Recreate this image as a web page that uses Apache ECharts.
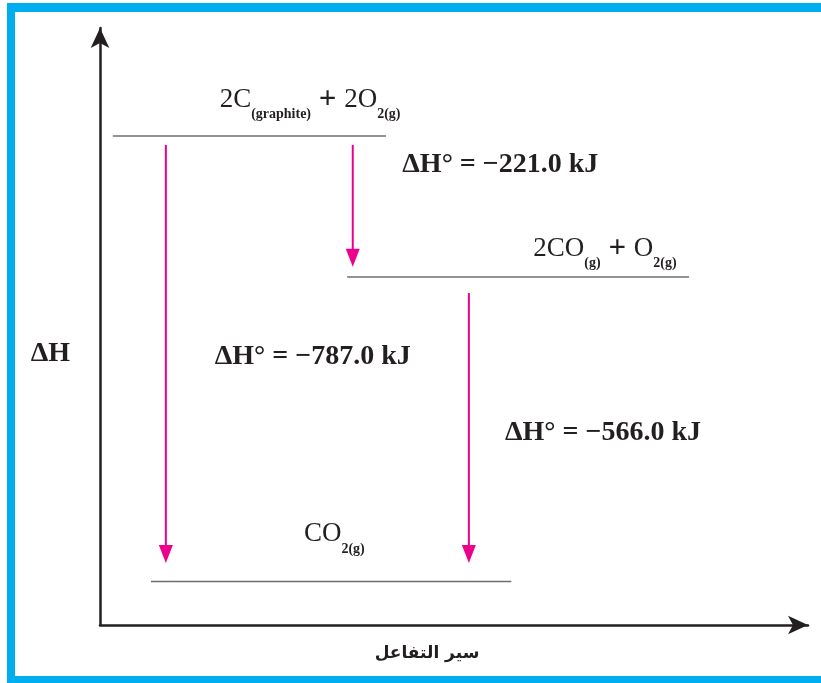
<!DOCTYPE html>
<html>
<head>
<meta charset="utf-8">
<script src="https://cdn.jsdelivr.net/npm/echarts@6/dist/echarts.min.js"></script>
<style>html,body{margin:0;padding:0;background:#fff}#main{width:821px;height:683px}</style>
</head>
<body>
<div id="main"></div>
<script>
// diagram units: both axes run 0..100, the levels are not drawn to kJ scale
var levelNames = ['2C(graphite) + 2O2(g)', '2CO(g) + O2(g)', 'CO2(g)'];
var levelY = [81.9, 58.3, 7.3];
var levelX0 = [1.8, 34.9, 7.2];
var levelX1 = [40.4, 83.2, 58.1];
var levelText = [
    '{m|2C}{s|(graphite)}{p| + }{m|2O}{s|2(g)}',
    '{m|2CO}{s|(g)}{p| + }{m|O}{s|2(g)}',
    '{m|CO}{s|2(g)}'
];
var levelTextX = [16.9, 61.2, 28.8];
var levelTextY = [88.0, 63.0, 15.2];

// enthalpy changes (kJ) and their arrows
var enthalpyValues = [-221.0, -787.0, -566.0];
var arrowX = [35.7, 9.3, 52.1];
var arrowFrom = [80.4, 80.4, 55.6];
var arrowTo = [60.0, 10.4, 10.4];
var dhTextX = [42.7, 16.2, 57.2];
var dhTextY = [77.1, 44.9, 32.2];

var ink = '#231f20';
var magenta = '#ec008c';
var serif = '"Liberation Serif", "Times New Roman", serif';

var richStyles = {
    m: {fontFamily: serif, fontSize: 27, fill: ink, lineHeight: 44, verticalAlign: 'middle'},
    p: {fontFamily: serif, fontSize: 31, fontWeight: 'bold', fill: ink, lineHeight: 44, verticalAlign: 'middle'},
    s: {fontFamily: serif, fontSize: 14, fontWeight: 'bold', fill: ink, lineHeight: 14, verticalAlign: 'bottom'}
};

function dhLabel(v) {
    return 'ΔH° = −' + Math.abs(v).toFixed(1) + ' kJ';
}

var levelData = levelNames.map(function (n, i) {
    return [levelX0[i], levelX1[i], levelY[i]];
});
var arrowData = enthalpyValues.map(function (v, i) {
    return [arrowX[i], arrowFrom[i], arrowTo[i], v];
});

function renderLevel(params, api) {
    var i = params.dataIndex;
    var a = api.coord([api.value(0), api.value(2)]);
    var b = api.coord([api.value(1), api.value(2)]);
    var t = api.coord([levelTextX[i], levelTextY[i]]);
    return {
        type: 'group',
        children: [
            {type: 'line', shape: {x1: a[0], y1: a[1], x2: b[0], y2: b[1]},
             style: {stroke: '#6d6e71', lineWidth: 1.5}},
            {type: 'text', x: t[0], y: t[1],
             style: {text: levelText[i], rich: richStyles, align: 'left', verticalAlign: 'middle'}}
        ]
    };
}

function renderArrow(params, api) {
    var i = params.dataIndex;
    var p = api.coord([api.value(0), api.value(1)]);
    var q = api.coord([api.value(0), api.value(2)]);
    var t = api.coord([dhTextX[i], dhTextY[i]]);
    var head = 18, half = 7;
    return {
        type: 'group',
        children: [
            {type: 'line', shape: {x1: p[0], y1: p[1], x2: q[0], y2: q[1] - head + 2},
             style: {stroke: magenta, lineWidth: 2}},
            {type: 'polygon', shape: {points: [[q[0] - half, q[1] - head], [q[0] + half, q[1] - head], [q[0], q[1]]]},
             style: {fill: magenta}},
            {type: 'text', x: t[0], y: t[1],
             style: {text: dhLabel(api.value(3)), fontFamily: serif, fontSize: 28, fontWeight: 'bold',
                     fill: ink, align: 'left', verticalAlign: 'middle'}}
        ]
    };
}

var myChart = echarts.init(document.getElementById('main'));
var option = {
    backgroundColor: '#fff',
    animation: false,
    grid: {left: 100, right: 13, top: 28, bottom: 58},
    xAxis: {
        type: 'value', min: 0, max: 100,
        name: 'سير التفاعل',
        nameLocation: 'middle',
        nameGap: 20,
        nameTextStyle: {fontFamily: '"DejaVu Sans"', fontSize: 17, fontWeight: 'bold', color: ink, padding: [0, 54, 0, 0]},
        axisLine: {show: true, symbol: ['none', 'arrow'], symbolSize: [14, 20], lineStyle: {color: ink, width: 2.5}},
        axisTick: {show: false}, axisLabel: {show: false}, splitLine: {show: false}
    },
    yAxis: {
        type: 'value', min: 0, max: 100,
        axisLine: {show: true, symbol: ['none', 'arrow'], symbolSize: [14, 20], lineStyle: {color: ink, width: 2.5}},
        axisTick: {show: false}, axisLabel: {show: false}, splitLine: {show: false}
    },
    graphic: [
        {type: 'rect', shape: {x: 7, y: 3, width: 814, height: 9}, style: {fill: '#00aeef'}},
        {type: 'rect', shape: {x: 7, y: 3, width: 8, height: 680}, style: {fill: '#00aeef'}},
        {type: 'rect', shape: {x: 7, y: 676, width: 814, height: 7}, style: {fill: '#00aeef'}},
        {type: 'text', x: 70, y: 354,
         style: {text: 'ΔH', fontFamily: serif, fontSize: 28, fontWeight: 'bold', fill: ink,
                 align: 'right', verticalAlign: 'middle'}}
    ],
    series: [
        {type: 'custom', name: 'levels', renderItem: renderLevel, data: levelData,
         encode: {x: [0, 1], y: 2}, silent: true},
        {type: 'custom', name: 'enthalpy', renderItem: renderArrow, data: arrowData,
         encode: {x: 0, y: [1, 2]}, silent: true}
    ]
};
myChart.setOption(option);
</script>
</body>
</html>
